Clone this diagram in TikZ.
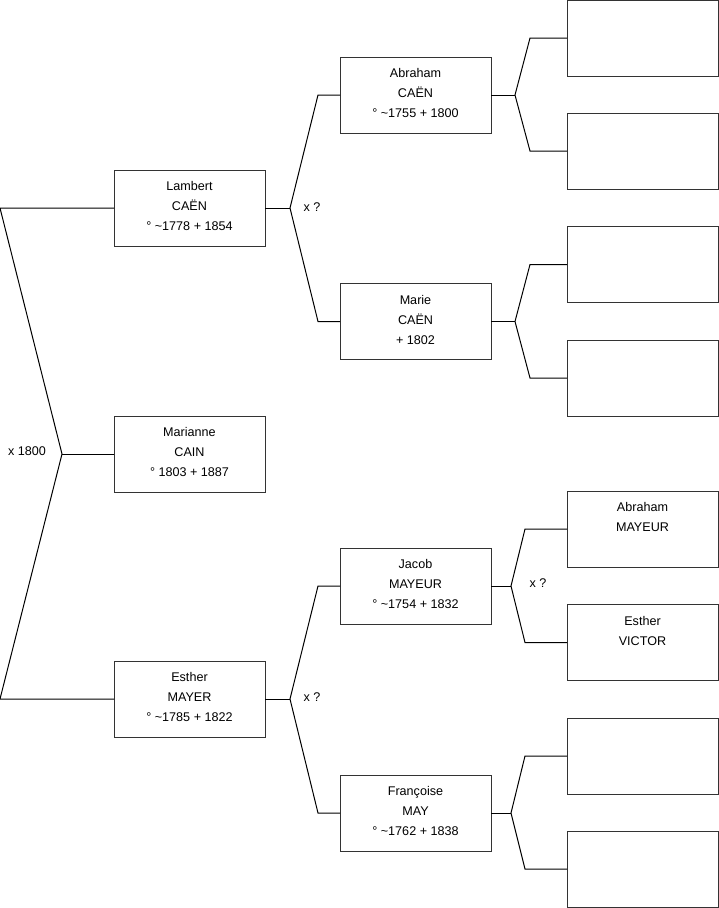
\documentclass[tikz,border=0pt]{standalone}
\usepackage{fontspec}
\setmainfont{Liberation Sans}
\begin{document}
\begin{tikzpicture}[x=1pt,y=-1pt,
  box/.style={draw=black!80,line width=1pt,minimum width=151pt,minimum height=76pt,inner sep=0pt,outer sep=0pt},
  txt/.style={align=center,inner sep=0pt,yshift=2pt,font=\fontsize{12.6}{20}\selectfont},
  lbl/.style={font=\fontsize{12.6}{14}\selectfont,inner sep=0pt},
  conn/.style={draw=black,line width=1pt}]
\useasboundingbox (0,0) rectangle (719,908);
% generation 1
\node[box,label={[txt]center:{Marianne\\CAIN\\° 1803 + 1887}}] (marianne) at (189.5,454) {};
% generation 2
\node[box,label={[txt]center:{Lambert\\CAËN\\° \textasciitilde1778 + 1854}}] (lambert) at (189.5,208) {};
\node[box,label={[txt]center:{Esther\\MAYER\\° \textasciitilde1785 + 1822}}] (esther) at (189.5,699) {};
% generation 3
\node[box,label={[txt]center:{Abraham\\CAËN\\° \textasciitilde1755 + 1800}}] (abraham) at (415.5,95) {};
\node[box,label={[txt]center:{Marie\\CAËN\\+ 1802}}] (marie) at (415.5,321.5) {};
\node[box,label={[txt]center:{Jacob\\MAYEUR\\° \textasciitilde1754 + 1832}}] (jacob) at (415.5,586) {};
\node[box,label={[txt]center:{Françoise\\MAY\\° \textasciitilde1762 + 1838}}] (francoise) at (415.5,813) {};
% generation 4
\node[box] (r1) at (642.5,38) {};
\node[box] (r2) at (642.5,151) {};
\node[box] (r3) at (642.5,264.5) {};
\node[box] (r4) at (642.5,378) {};
\node[box,label={[txt]center:{Abraham\\MAYEUR\\\phantom{X}}}] (r5) at (642.5,529) {};
\node[box,label={[txt]center:{Esther\\VICTOR\\\phantom{X}}}] (r6) at (642.5,642.5) {};
\node[box] (r7) at (642.5,756) {};
\node[box] (r8) at (642.5,869) {};
% labels
\node[lbl] (m1) at (27,451) {x 1800};
\node[lbl] (m2) at (312,207) {x ?};
\node[lbl] (m3) at (312,697) {x ?};
\node[lbl] (m4) at (538,583) {x ?};
% coordinates
\coordinate (la) at (0,208);
\coordinate (lv) at (62,454);
\coordinate (lb) at (0,699);
\coordinate (av) at (290,208);
\coordinate (aa) at (318,95);
\coordinate (ab) at (318,321.5);
\coordinate (bv) at (290,699);
\coordinate (ba) at (318,586);
\coordinate (bb) at (318,813);
\coordinate (c1v) at (515,95);
\coordinate (c1a) at (530,38);
\coordinate (c1b) at (530,151);
\coordinate (c2v) at (515,321.5);
\coordinate (c2a) at (530,264.5);
\coordinate (c2b) at (530,378);
\coordinate (c3v) at (511,586);
\coordinate (c3a) at (525,529);
\coordinate (c3b) at (525,642.5);
\coordinate (c4v) at (511,813);
\coordinate (c4a) at (525,756);
\coordinate (c4b) at (525,869);
% connectors
\draw[conn] (lambert.west) -- (la) -- (lv) -- (lb) -- (esther.west);
\draw[conn] (lv) -- (marianne.west);
\draw[conn] (lambert.east) -- (av);
\draw[conn] (abraham.west) -- (aa) -- (av) -- (ab) -- (marie.west);
\draw[conn] (esther.east) -- (bv);
\draw[conn] (jacob.west) -- (ba) -- (bv) -- (bb) -- (francoise.west);
\draw[conn] (abraham.east) -- (c1v);
\draw[conn] (r1.west) -- (c1a) -- (c1v) -- (c1b) -- (r2.west);
\draw[conn] (marie.east) -- (c2v);
\draw[conn] (r3.west) -- (c2a) -- (c2v) -- (c2b) -- (r4.west);
\draw[conn] (jacob.east) -- (c3v);
\draw[conn] (r5.west) -- (c3a) -- (c3v) -- (c3b) -- (r6.west);
\draw[conn] (francoise.east) -- (c4v);
\draw[conn] (r7.west) -- (c4a) -- (c4v) -- (c4b) -- (r8.west);
\end{tikzpicture}
\end{document}
